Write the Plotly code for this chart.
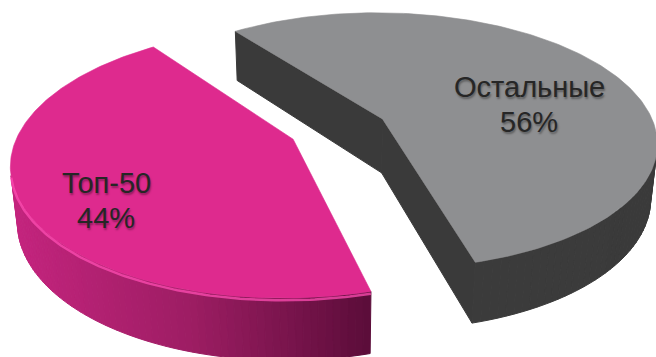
import numpy as np
import plotly.graph_objects as go

# ---- data ----
labels = ["Топ-50", "Остальные"]
values = [44, 56]

# ---- style / camera (3D perspective pie) ----
W, H = 656, 357
ELEV = 0.4861          # camera elevation (rad)
DIST = 5.1385          # camera distance (pie radii)
FOCAL = 1403.55        # px
CX, CY = 338.44, 128.94
THICK = 0.2302         # pie thickness (radii)
EXPLODE = 0.1819       # slice explosion (radii)
START = 126.743        # start angle of first slice (deg)
LABEL_R = 0.6759

top_cols = ["#DE2A8E", "#8E8F91"]
wall_stops = [["#C4247E", "#9D1D63", "#5C0D3A"], ["#3B3B3B", "#3B3B3B", "#3A3A3A"]]
cut_col = ["#5C0D3A", "#3A3A3A"]
hl_cols = ["#FF4DB3", None]


def circ(t, r=1.0, z=0.0):
    t = np.radians(t)
    return np.array([r*np.cos(t), r*np.sin(t), z])


def project(P):
    P = np.asarray(P, float)
    x, y, z = P[..., 0], P[..., 1], P[..., 2]
    depth = y*np.cos(ELEV) - z*np.sin(ELEV) + DIST
    return CX + FOCAL*x/depth, CY - FOCAL*(y*np.sin(ELEV) + z*np.cos(ELEV))/depth


def slices():
    fr = np.array(values, float)/sum(values)
    out, a = [], START
    for f_ in fr:
        a0, a1 = a, a + 360*f_
        bis = np.radians((a0+a1)/2)
        O = EXPLODE*np.array([np.cos(bis), np.sin(bis), 0.0])
        out.append((a0, a1, O))
        a = a1
    return out


def hexrgb(c):
    c = c.lstrip('#')
    return np.array([int(c[i:i+2], 16) for i in (0, 2, 4)], float)


def grad(stops, t):
    if t <= 0.5:
        a = hexrgb(stops[0])*(1-2*t) + hexrgb(stops[1])*(2*t)
    else:
        a = hexrgb(stops[1])*(2-2*t) + hexrgb(stops[2])*(2*t-1)
    return 'rgb(%d,%d,%d)' % tuple(np.round(a))


fig = go.Figure()


def poly(pts3, color, lw=0.6):
    u, v = project(np.array(pts3))
    fig.add_trace(go.Scatter(x=np.append(u, u[0]), y=np.append(v, v[0]), mode='lines',
                             fill='toself', fillcolor=color, line=dict(width=lw, color=color),
                             hoverinfo='skip', showlegend=False))


cam = np.array([0, -DIST*np.cos(ELEV), DIST*np.sin(ELEV)])
h = THICK
sl = slices()
for i in [1, 0]:
    a0, a1, O = sl[i]
    # radial cut faces
    for t, nrm in [(a0, np.array([np.sin(np.radians(a0)), -np.cos(np.radians(a0)), 0])),
                   (a1, np.array([-np.sin(np.radians(a1)), np.cos(np.radians(a1)), 0]))]:
        M = O + circ(t, 0.5, -h/2)
        if nrm @ (cam - M) > 0:
            poly([O, O + circ(t, 1, 0), O + circ(t, 1, -h), O + np.array([0, 0, -h])], cut_col[i], 1.0)
    # outer wall
    n = 120
    tk = np.linspace(a0, a1, n+1)
    vis = []
    for k in range(n):
        tm = (tk[k]+tk[k+1])/2
        M = O + circ(tm, 1, -h/2)
        nrm = np.array([np.cos(np.radians(tm)), np.sin(np.radians(tm)), 0])
        if nrm @ (cam - M) > 0:
            vis.append(k)
    if vis:
        us = [project(O + circ((tk[k]+tk[k+1])/2, 1, 0))[0] for k in vis]
        umin, umax = min(us), max(us)
        for k, uu in zip(vis, us):
            col = grad(wall_stops[i], (uu-umin)/(umax-umin+1e-9))
            poly([O + circ(tk[k], 1, 0), O + circ(tk[k+1], 1, 0),
                  O + circ(tk[k+1], 1, -h), O + circ(tk[k], 1, -h)], col, 1.0)
    # top face
    tt = np.radians(np.linspace(a0, a1, 200))
    arc = O + np.stack([np.cos(tt), np.sin(tt), np.zeros_like(tt)], axis=1)
    poly(np.vstack([O, arc]), top_cols[i])
    # bevel highlight
    if hl_cols[i] and vis:
        tv = np.linspace(tk[vis[0]], tk[vis[-1]+1], 120)
        u, v = project(np.array([O + circ(t, 1, -h*0.035) for t in tv]))
        fig.add_trace(go.Scatter(x=u, y=v, mode='lines', line=dict(color=hl_cols[i], width=2.5),
                                 opacity=0.75, hoverinfo='skip', showlegend=False))

# labels
for i in range(2):
    a0, a1, O = sl[i]
    lu, lv = project(O + circ((a0+a1)/2, LABEL_R, 0))
    pct = round(100*values[i]/sum(values))
    for line, ys in [(labels[i], -3), (f"{pct}%", -38)]:
        fig.add_annotation(x=lu, y=lv, text=line, showarrow=False, xshift=-7, yshift=ys,
                           font=dict(family="Liberation Sans, Arial", size=29, color="#262626",
                                     shadow="1px 2px 2px rgba(0,0,0,0.35)"))

fig.update_layout(width=W, height=H, margin=dict(l=0, r=0, t=0, b=0),
                  paper_bgcolor='white', plot_bgcolor='white',
                  xaxis=dict(range=[0, W], visible=False, fixedrange=True),
                  yaxis=dict(range=[H, 0], visible=False, fixedrange=True))
fig.write_html("out.html")
